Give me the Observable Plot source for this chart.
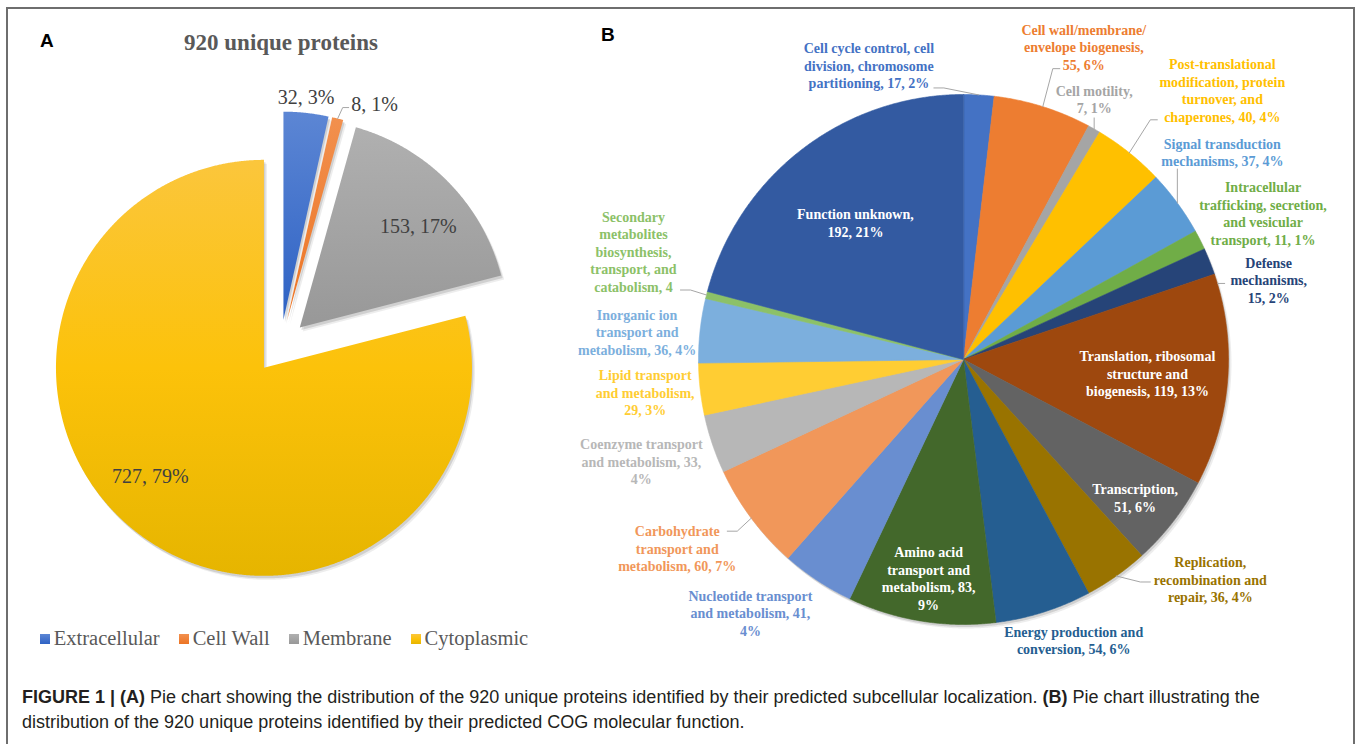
<!DOCTYPE html>
<html><head><meta charset="utf-8">
<script src="https://cdn.jsdelivr.net/npm/d3@7"></script>
<script src="https://cdn.jsdelivr.net/npm/@observablehq/plot@0.6"></script>
<style>
body{margin:0;background:#fff;}
#root{position:relative;width:1360px;height:744px;overflow:hidden;background:#fff;}
#frame{position:absolute;left:6px;top:7px;width:1349px;height:780px;border:2px solid #6e6e6e;box-sizing:border-box;}
#panelA,#panelB{position:absolute;top:0;}
#panelA{left:0;} #panelB{left:560px;}
.letter{position:absolute;font-family:"Liberation Sans",Arial,sans-serif;font-weight:bold;font-size:19px;color:#000;line-height:22px;}
#titleA{position:absolute;left:0;width:562px;top:29px;text-align:center;font-family:"Liberation Serif",serif;font-weight:bold;font-size:23px;line-height:28px;color:#595959;}
#legendA{position:absolute;left:0;top:627px;width:568px;display:flex;justify-content:center;}
#legendA .lgA-swatches{font-family:"Liberation Serif",serif !important;font-size:20.5px !important;color:#595959 !important;margin:0 !important;min-height:0 !important;}
#legendA .lgA-swatch{margin-right:19px !important;}
#legendA .lgA-swatch:last-child{margin-right:0 !important;}
#legendA .lgA-swatch > svg{margin-right:4px !important;}
#caption{position:absolute;left:22px;top:685px;width:1330px;font-family:"Liberation Sans",Arial,sans-serif;font-size:18px;line-height:25px;color:#231f20;white-space:nowrap;}
</style></head>
<body>
<svg width="0" height="0" style="position:absolute">
<defs>
<linearGradient id="gA0" x1="0" y1="0" x2="0" y2="1"><stop offset="0" stop-color="#5C86D4"/><stop offset="1" stop-color="#2E62C4"/></linearGradient>
<linearGradient id="gA1" x1="0" y1="0" x2="0" y2="1"><stop offset="0" stop-color="#F2904E"/><stop offset="1" stop-color="#EC7424"/></linearGradient>
<linearGradient id="gA2" x1="0" y1="0" x2="0" y2="1"><stop offset="0" stop-color="#B0B0B0"/><stop offset="1" stop-color="#989898"/></linearGradient>
<linearGradient id="gA3" x1="0" y1="0" x2="0" y2="1"><stop offset="0" stop-color="#FBC63C"/><stop offset="0.5" stop-color="#FCC20A"/><stop offset="1" stop-color="#E6B500"/></linearGradient>
</defs></svg>
<div id="root">
  <div id="frame"></div>
  <div id="panelA"></div>
  <div id="panelB"></div>
  <div class="letter" style="left:40px;top:30px;">A</div>
  <div class="letter" style="left:601px;top:24px;">B</div>
  <div id="titleA">920 unique proteins</div>
  <div id="legendA"></div>
  <div id="caption"><b>FIGURE 1 | (A)</b> Pie chart showing the distribution of the 920 unique proteins identified by their predicted subcellular localization. <b>(B)</b> Pie chart illustrating the<br>distribution of the 920 unique proteins identified by their predicted COG molecular function.</div>
</div>
<script>
// ---------- Panel A data: subcellular localization ----------
const locCategories = ["Extracellular", "Cell Wall", "Membrane", "Cytoplasmic"];
const locCounts = [32, 8, 153, 727];
const locPercents = [3, 1, 17, 79];
const locColors = ["url(#gA0)", "url(#gA1)", "url(#gA2)", "url(#gA3)"];

// ---------- Panel B data: COG functional categories ----------
const cogCategories = [
  "Cell cycle control", "Cell wall/membrane/envelope biogenesis", "Cell motility",
  "Post-translational modification", "Signal transduction", "Intracellular trafficking",
  "Defense mechanisms", "Translation", "Transcription", "Replication", "Energy production",
  "Amino acid transport", "Nucleotide transport", "Carbohydrate transport", "Coenzyme transport",
  "Lipid transport", "Inorganic ion transport", "Secondary metabolites", "Function unknown"
];
const cogCounts = [17, 55, 7, 40, 37, 11, 15, 119, 51, 36, 54, 83, 41, 60, 33, 29, 36, 4, 192];
const cogLabels = [
  "Cell cycle control, cell\ndivision, chromosome\npartitioning, 17, 2%",
  "Cell wall/membrane/\nenvelope biogenesis,\n55, 6%",
  "Cell motility,\n7, 1%",
  "Post-translational\nmodification, protein\nturnover, and\nchaperones, 40, 4%",
  "Signal transduction\nmechanisms, 37, 4%",
  "Intracellular\ntrafficking, secretion,\nand vesicular\ntransport, 11, 1%",
  "Defense\nmechanisms,\n15, 2%",
  "Translation, ribosomal\nstructure and\nbiogenesis, 119, 13%",
  "Transcription,\n51, 6%",
  "Replication,\nrecombination and\nrepair, 36, 4%",
  "Energy production and\nconversion, 54, 6%",
  "Amino acid\ntransport and\nmetabolism, 83,\n9%",
  "Nucleotide transport\nand metabolism, 41,\n4%",
  "Carbohydrate\ntransport and\nmetabolism, 60, 7%",
  "Coenzyme transport\nand metabolism, 33,\n4%",
  "Lipid transport\nand metabolism,\n29, 3%",
  "Inorganic ion\ntransport and\nmetabolism, 36, 4%",
  "Secondary\nmetabolites\nbiosynthesis,\ntransport, and\ncatabolism, 4",
  "Function unknown,\n192, 21%"
];
const cogColors = [
  "#4472C4", "#ED7D31", "#A5A5A5", "#FFC000", "#5B9BD5", "#70AD47", "#264478",
  "#9E480E", "#636363", "#997300", "#255E91", "#43682B", "#698ED0", "#F1975A",
  "#B7B7B7", "#FFCD33", "#7CAFDD", "#8CC168", "#335AA1"
];

// ---------- layout (not data) ----------
const A = {cx: 280, cy: 346, R: 208, explode: 27 / 208};
const B = {cx: 403, cy: 359, R: 265, explode: 0};
// label placement: [radius factor along mid-angle, nudge x px, nudge y px]
const layoutA = [[1, 0, -15], [1, 37, -14], [0.75, 7, 8], [0.75, -18, -15]];
const leadersA = {1: [[0, 0], [5, -11], [11, -11]]};
const layoutB = [
  [1, -110, -30], [1, 41, -60], [1, 0, -30], [1, 93, -63], [1, 45, -51], [1, 63, -27],
  [1, 59, 18], [0.7, -1, -1], [0.8, 4, 8], [1, 94, 3], [1, 30, 28], [0.8, -1, 9],
  [1, -67, 32], [1, -74, 30], [1, -71, 17], [1, -55, 3], [1, -63, 1], [1, -73, -44], [0.7, 5, 10]
];
const insideB = new Set([7, 8, 11, 18]);
const leadersB = {
  0: [[0, 0], [-35, -7], [-45, -7]],
  1: [[0, 0], [10, -38], [17, -38]],
  2: [[0, 0], [0, -11]],
  3: [[0, 0], [21, -33], [28, -33]],
  4: [[0, 0], [0, -34]],
  6: [[8, 22], [15, 22]],
  9: [[0, 0], [24, 6], [34, 6]],
  13: [[0, 0], [-14, 13], [-24, 13]],
  17: [[0, 0], [-16, -5], [-26, -5]]
};

// ---------- geometry helpers (unit-circle data space, angles clockwise from 12 o'clock) ----------
function pieSlices(categories, counts, explode) {
  const arcs = d3.pie().sort(null).value(d => d)(counts);
  return arcs.map((a, i) => {
    const mid = (a.startAngle + a.endAngle) / 2;
    return {key: categories[i], i, start: a.startAngle, end: a.endAngle, mid,
            ox: explode * Math.sin(mid), oy: explode * Math.cos(mid)};
  });
}
function slicePoints(slices) {
  const pts = [];
  const step = 0.25 * Math.PI / 180;
  for (const s of slices) {
    pts.push({key: s.key, x: s.ox, y: s.oy});
    const n = Math.max(2, Math.ceil((s.end - s.start) / step));
    for (let k = 0; k <= n; k++) {
      const a = s.start + (s.end - s.start) * k / n;
      pts.push({key: s.key, x: s.ox + Math.sin(a), y: s.oy + Math.cos(a)});
    }
  }
  return pts;
}
function anchor(s, rf, dx, dy, R) {
  return {x: s.ox + rf * Math.sin(s.mid) + dx / R, y: s.oy + rf * Math.cos(s.mid) - dy / R};
}
function leaderPoints(slices, leaders, R) {
  const out = [];
  for (const [i, pts] of Object.entries(leaders)) {
    const s = slices[+i];
    for (const [dx, dy] of pts) out.push({id: i, ...anchor(s, 1, dx, dy, R)});
  }
  return out;
}
function shadowMarks(pts) {
  return [
    Plot.line(pts, {x: "x", y: "y", z: "key", fill: "#000", fillOpacity: 0.07, stroke: "none", curve: "linear-closed", dx: 3, dy: 4}),
    Plot.line(pts, {x: "x", y: "y", z: "key", fill: "#000", fillOpacity: 0.12, stroke: "none", curve: "linear-closed", dx: 1.5, dy: 2.5})
  ];
}

// ---------- Panel A ----------
const slicesA = pieSlices(locCategories, locCounts, A.explode);
const ptsA = slicePoints(slicesA);
const labelsA = slicesA.map((s, i) => ({
  text: `${locCounts[i]}, ${locPercents[i]}%`,
  ...anchor(s, layoutA[i][0], layoutA[i][1], layoutA[i][2], A.R)
}));
const plotA = Plot.plot({
  width: 560, height: 620, margin: 0,
  x: {domain: [-1, 1], range: [A.cx - A.R, A.cx + A.R], axis: null},
  y: {domain: [-1, 1], range: [A.cy + A.R, A.cy - A.R], axis: null},
  color: {domain: locCategories, range: locColors},
  marks: [
    ...shadowMarks(ptsA),
    Plot.line(ptsA, {x: "x", y: "y", z: "key", fill: "key", stroke: "none", curve: "linear-closed"}),
    Plot.line(leaderPoints(slicesA, leadersA, A.R), {x: "x", y: "y", z: "id", stroke: "#a6a6a6", strokeWidth: 1}),
    Plot.text(labelsA, {x: "x", y: "y", text: "text", fill: "#404040", fontFamily: "Liberation Serif", fontSize: 20})
  ]
});
document.getElementById("panelA").append(plotA);
document.getElementById("legendA").append(Plot.legend({
  color: {domain: locCategories, range: locColors},
  legend: "swatches", swatchSize: 10, className: "lgA"
}));

// ---------- Panel B ----------
const slicesB = pieSlices(cogCategories, cogCounts, B.explode);
const ptsB = slicePoints(slicesB);
const labelsB = slicesB.map((s, i) => ({
  key: s.key, text: cogLabels[i], inside: insideB.has(i),
  ...anchor(s, layoutB[i][0], layoutB[i][1], layoutB[i][2], B.R)
}));
const textOpts = {x: "x", y: "y", text: "text", fontFamily: "Liberation Serif", fontWeight: "bold", fontSize: 14, lineHeight: 1.25, lineAnchor: "middle"};
const plotB = Plot.plot({
  width: 800, height: 660, margin: 0,
  x: {domain: [-1, 1], range: [B.cx - B.R, B.cx + B.R], axis: null},
  y: {domain: [-1, 1], range: [B.cy + B.R, B.cy - B.R], axis: null},
  color: {domain: cogCategories, range: cogColors},
  marks: [
    ...shadowMarks(ptsB),
    Plot.line(ptsB, {x: "x", y: "y", z: "key", fill: "key", stroke: "key", strokeWidth: 0.6, curve: "linear-closed"}),
    Plot.line(leaderPoints(slicesB, leadersB, B.R), {x: "x", y: "y", z: "id", stroke: "#a6a6a6", strokeWidth: 1}),
    Plot.text(labelsB.filter(d => !d.inside), {...textOpts, fill: "key"}),
    Plot.text(labelsB.filter(d => d.inside), {...textOpts, fill: "#ffffff"})
  ]
});
document.getElementById("panelB").append(plotB);
</script>
</body></html>
